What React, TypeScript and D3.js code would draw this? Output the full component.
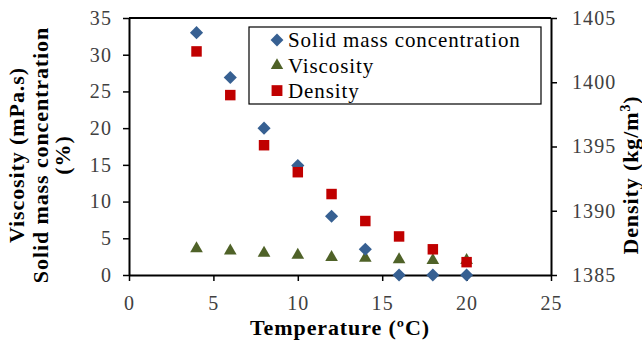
import React, { useEffect, useRef } from 'react';
import * as d3 from 'd3';

const temps = [4, 6, 8, 10, 12, 14, 16, 18, 20];
const solidMass = [33, 26.9, 20, 14.9, 8, 3.5, 0, 0, 0];
const viscosity = [3.6, 3.3, 3.0, 2.7, 2.4, 2.3, 2.1, 2.0, 2.0];
const density = [1402.4, 1399.0, 1395.1, 1393.0, 1391.3, 1389.2, 1388.0, 1387.0, 1386.0];

const xTicks = [0, 5, 10, 15, 20, 25];
const leftTicks = [0, 5, 10, 15, 20, 25, 30, 35];
const rightTicks = [1385, 1390, 1395, 1400, 1405];

const legendItems = ['Solid mass concentration', 'Viscosity', 'Density'];

const BLUE = '#376092';
const GREEN = '#4f6228';
const RED = '#c00000';
const FONT = 'Liberation Serif, serif';

function App() {
  const ref = useRef<SVGSVGElement>(null);

  useEffect(() => {
    const svg = d3.select(ref.current);
    svg.selectAll('*').remove();

    const width = 642;
    const height = 342;
    const margin = { top: 18, right: 91, bottom: 67, left: 129 };

    const x = d3.scaleLinear().domain([0, 25]).range([margin.left, width - margin.right]);
    const y = d3.scaleLinear().domain([0, 35]).range([height - margin.bottom, margin.top]);
    const y2 = d3.scaleLinear().domain([1385, 1405]).range([height - margin.bottom, margin.top]);

    svg.attr('width', width).attr('height', height).attr('font-family', FONT);

    const styleAxis = (g: any) => {
      g.attr('font-family', FONT).attr('font-size', 20);
      g.select('.domain').attr('stroke', '#000').attr('stroke-width', 2);
      g.selectAll('.tick line').attr('stroke', '#000').attr('stroke-width', 1.5);
      g.selectAll('.tick text').attr('fill', '#404040').attr('letter-spacing', 1.1);
    };

    // top frame line
    svg.append('line')
      .attr('x1', x(0)).attr('x2', x(25))
      .attr('y1', y(35)).attr('y2', y(35))
      .attr('stroke', '#000').attr('stroke-width', 2);

    svg.append('g')
      .attr('transform', `translate(0,${y(0)})`)
      .call(d3.axisBottom(x).tickValues(xTicks).tickSize(6).tickSizeOuter(0).tickPadding(15))
      .call(styleAxis);

    svg.append('g')
      .attr('transform', `translate(${x(0)},0)`)
      .call(d3.axisLeft(y).tickValues(leftTicks).tickSize(6).tickSizeOuter(0).tickPadding(11))
      .call(styleAxis);

    svg.append('g')
      .attr('transform', `translate(${x(25)},0)`)
      .call(d3.axisRight(y2).tickValues(rightTicks).tickFormat(d3.format('d')).tickSize(6).tickSizeOuter(0).tickPadding(15))
      .call(styleAxis);

    // axis titles
    const titleText = (sel: any) =>
      sel.attr('text-anchor', 'middle').attr('font-size', 22).attr('font-weight', 'bold')
        .attr('letter-spacing', 0.9).attr('fill', '#000');

    svg.append('text')
      .attr('x', (x(0) + x(25)) / 2).attr('y', 335)
      .call(titleText)
      .text('Temperature (ºC)');

    const leftTitle = svg.append('text')
      .attr('transform', 'translate(0,155) rotate(-90)')
      .call(titleText);
    leftTitle.append('tspan').attr('x', 0).attr('y', 24).text('Viscosity (mPa.s)');
    leftTitle.append('tspan').attr('x', 0).attr('y', 48).text('Solid mass concentration');
    leftTitle.append('tspan').attr('x', 0).attr('y', 70).text('(%)');

    const rightTitle = svg.append('text')
      .attr('transform', 'translate(638,175) rotate(-90)')
      .call(titleText);
    rightTitle.append('tspan').text('Density (kg/m');
    rightTitle.append('tspan').attr('font-size', 14).attr('dy', -8).text('3');
    rightTitle.append('tspan').attr('dy', 8).text(')');

    const diamond = d3.symbol().type(d3.symbolDiamond2).size(110)();
    const triangle = d3.symbol().type(d3.symbolTriangle2).size(115)();
    const square = d3.symbol().type(d3.symbolSquare2).size(140)();

    // triangles (viscosity)
    svg.append('g').selectAll('path')
      .data(temps)
      .join('path')
      .attr('d', triangle)
      .attr('transform', (d, i) => `translate(${x(d)},${y(viscosity[i])})`)
      .attr('fill', GREEN);

    // diamonds (solid mass)
    svg.append('g').selectAll('path')
      .data(temps)
      .join('path')
      .attr('d', diamond)
      .attr('transform', (d, i) => `translate(${x(d)},${y(solidMass[i])})`)
      .attr('fill', BLUE);

    // squares (density)
    svg.append('g').selectAll('path')
      .data(temps)
      .join('path')
      .attr('d', square)
      .attr('transform', (d, i) => `translate(${x(d)},${y2(density[i])})`)
      .attr('fill', RED);

    // legend
    const lg = svg.append('g');
    lg.append('rect')
      .attr('x', 249).attr('y', 27).attr('width', 292).attr('height', 77)
      .attr('fill', '#fff').attr('stroke', '#000').attr('stroke-width', 1.2);
    const legendShapes = [
      { d: d3.symbol().type(d3.symbolDiamond2).size(105)(), c: BLUE },
      { d: d3.symbol().type(d3.symbolTriangle2).size(110)(), c: GREEN },
      { d: d3.symbol().type(d3.symbolSquare2).size(150)(), c: RED },
    ];
    legendItems.forEach((name, i) => {
      const cy = 40 + i * 25.3;
      lg.append('path')
        .attr('d', legendShapes[i].d)
        .attr('transform', `translate(277,${cy})`)
        .attr('fill', legendShapes[i].c);
      lg.append('text')
        .attr('x', 288).attr('y', cy).attr('dy', '0.35em')
        .attr('font-size', 21).attr('letter-spacing', 0.9).attr('fill', '#000')
        .text(name);
    });
  }, []);

  return <svg ref={ref} style={{ position: 'absolute', left: 0, top: 0 }}></svg>;
}

export default App;
